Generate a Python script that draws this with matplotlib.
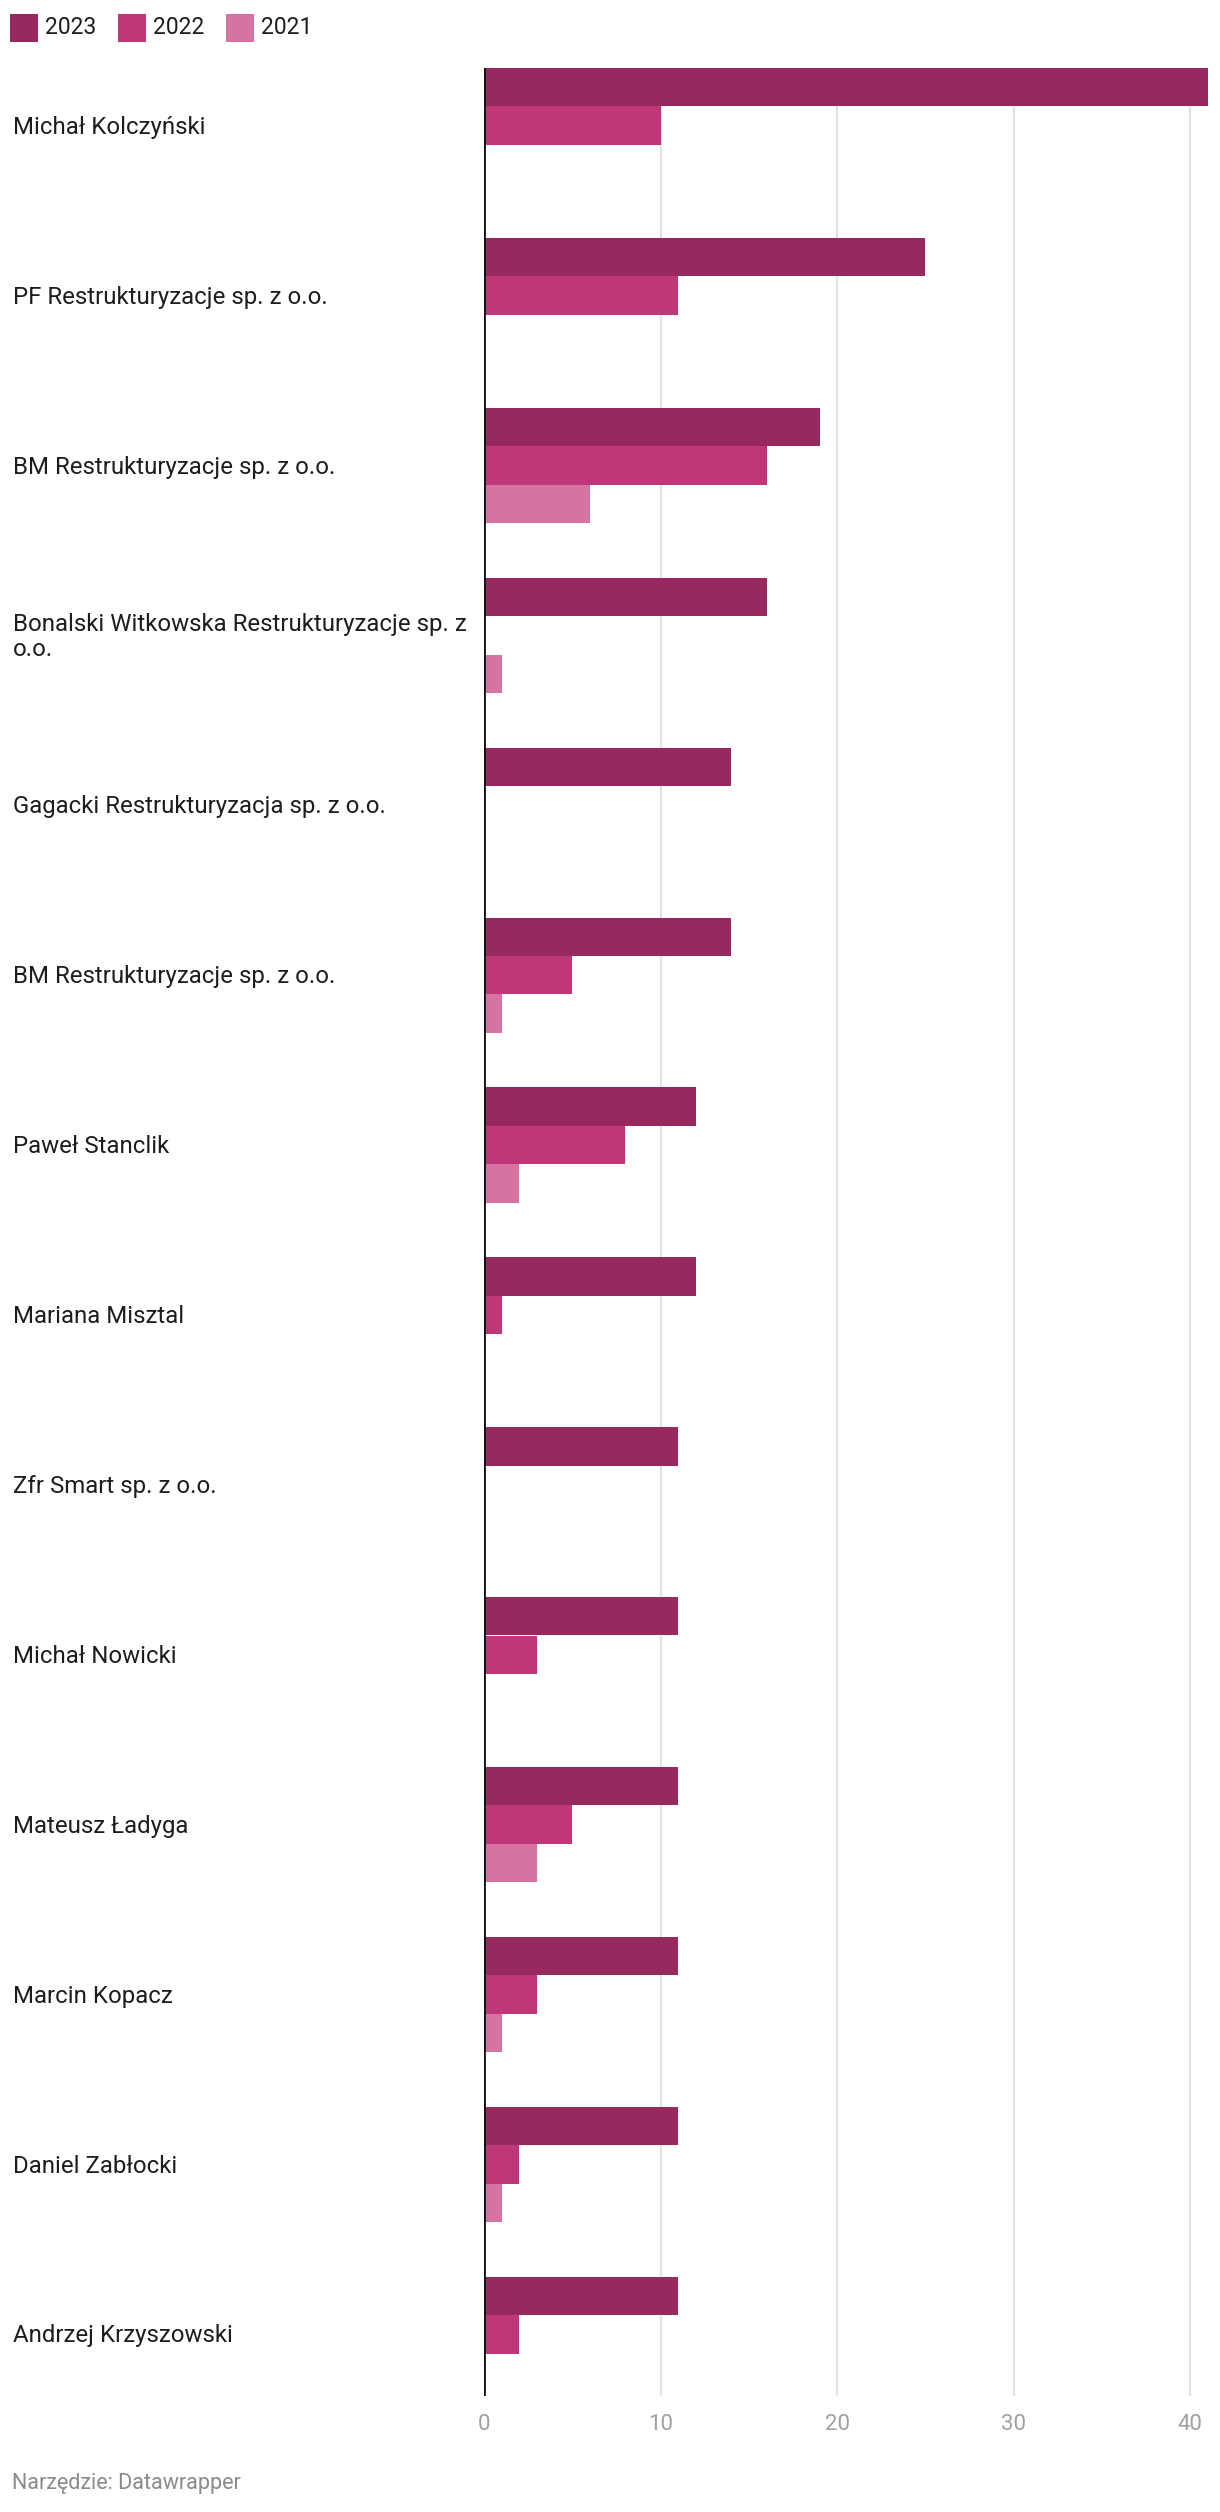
import matplotlib
matplotlib.use("Agg")
import matplotlib.pyplot as plt
import matplotlib.transforms as mtransforms
from matplotlib.patches import Rectangle
import numpy as np

plt.rcParams['font.family'] = ['Roboto', 'DejaVu Sans']

categories = [
    "Michał Kolczyński",
    "PF Restrukturyzacje sp. z o.o.",
    "BM Restrukturyzacje sp. z o.o.",
    "Bonalski Witkowska Restrukturyzacje sp. z\no.o.",
    "Gagacki Restrukturyzacja sp. z o.o.",
    "BM Restrukturyzacje sp. z o.o.",
    "Paweł Stanclik",
    "Mariana Misztal",
    "Zfr Smart sp. z o.o.",
    "Michał Nowicki",
    "Mateusz Ładyga",
    "Marcin Kopacz",
    "Daniel Zabłocki",
    "Andrzej Krzyszowski",
]
series_names = ["2023", "2022", "2021"]
v2023 = [41, 25, 19, 16, 14, 14, 12, 12, 11, 11, 11, 11, 11, 11]
v2022 = [10, 11, 16, 0, 0, 5, 8, 1, 0, 3, 5, 3, 2, 2]
v2021 = [0, 0, 6, 1, 0, 1, 2, 0, 0, 0, 3, 1, 1, 0]
xticks = [0, 10, 20, 30, 40]

colors = ["#962a5e", "#bf3679", "#d673a1"]

W, H = 1220, 2512
fig = plt.figure(figsize=(W / 100, H / 100), dpi=100)

ax_left, ax_right = 484, 1208
ax_top, ax_bottom = 68, 2396
ax = fig.add_axes([ax_left / W, 1 - ax_bottom / H, (ax_right - ax_left) / W, (ax_bottom - ax_top) / H])

pitch = 169.9
bh = 38.4 / pitch
n = len(categories)
y = np.arange(n)
offsets = [-bh, 0, bh]
for vals, off, c in zip([v2023, v2022, v2021], offsets, colors):
    ax.barh(y + off, vals, height=bh, color=c, linewidth=0, edgecolor='none',
            antialiased=False, zorder=2)

ax.set_xlim(0, 41)
top_lim = -1.5 * bh
bottom_lim = top_lim + (ax_bottom - ax_top) / pitch
ax.set_ylim(bottom_lim, top_lim)
ax.set_xticks(xticks)
ax.set_yticks([])
ax.tick_params(axis='x', length=0, pad=13, labelsize=16, labelcolor='#a0a0a0')
for s in ax.spines.values():
    s.set_visible(False)
ax.grid(axis='x', color='#e3e3e3', linewidth=1.6, zorder=0)
ax.axvline(0, color='#111111', linewidth=2.0, zorder=3)

trans = mtransforms.blended_transform_factory(fig.transFigure, ax.transData)
for i, lab in enumerate(categories):
    ax.text(13 / W, i + 0.01, lab, transform=trans, ha='left', va='center',
            fontsize=17.3, color='#1d1d1d', linespacing=1.1)

# legend
leg_x = [10, 118, 226]
for xx, name, c in zip(leg_x, series_names, colors):
    fig.patches.append(Rectangle((xx / W, 1 - 42 / H), 28 / W, 28 / H,
                                 transform=fig.transFigure, color=c, linewidth=0))
    fig.text((xx + 35) / W, 1 - 28 / H, name, ha='left', va='center',
             fontsize=16.5, color='#1d1d1d')

fig.text(12 / W, 1 - 2483 / H, "Narzędzie: Datawrapper", ha='left', va='center',
         fontsize=15.5, color='#8a8a8a')

fig.savefig("out.png", dpi=100, facecolor='white')
